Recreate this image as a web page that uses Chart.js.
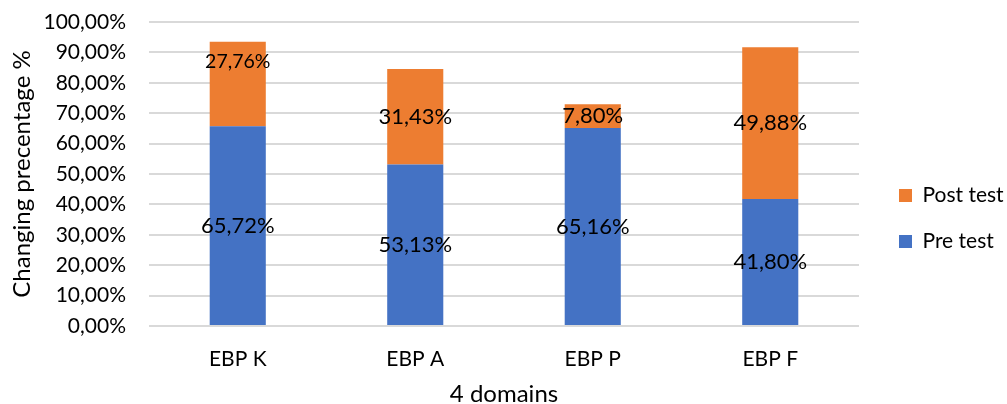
<!DOCTYPE html>
<html>
<head>
<meta charset="utf-8">
<script src="https://cdn.jsdelivr.net/npm/chart.js@4.4.1/dist/chart.umd.min.js"></script>
<style>
  html, body { margin: 0; padding: 0; background: #ffffff; }
  #wrap { width: 1007px; height: 404px; }
</style>
</head>
<body>
<div id="wrap"><canvas id="chart" width="1007" height="404"></canvas></div>
<script>
// Domains on the x axis
const categories = ['EBP K', 'EBP A', 'EBP P', 'EBP F'];
// Share of respondents per domain (%)
const preTest = [65.72, 53.13, 65.16, 41.80];
const postTest = [27.76, 31.43, 7.80, 49.88];
// Value axis range and spacing (%)
const yMin = 0;
const yMax = 100;
const yStep = 10;

const FONT = 'Lato, "Open Sans", "Noto Sans", sans-serif';
const fmtPct = v => Number(v).toFixed(2).replace('.', ',') + '%';

// Writes each segment's value in the middle of the segment
const segmentLabels = {
  id: 'segmentLabels',
  afterDatasetsDraw(chart, args, opts) {
    const ctx = chart.ctx;
    ctx.save();
    ctx.textAlign = 'center';
    ctx.textBaseline = 'middle';
    ctx.fillStyle = opts.color;
    chart.data.datasets.forEach((ds, di) => {
      const meta = chart.getDatasetMeta(di);
      if (meta.hidden) return;
      meta.data.forEach((bar, i) => {
        const tweak = (opts.adjust || []).find(a => a.dataset === di && a.index === i) || {};
        const size = tweak.size || opts.size;
        ctx.font = size + 'px ' + FONT;
        const y = (bar.y + bar.base) / 2 + (tweak.dy || 0);
        ctx.fillText(fmtPct(ds.data[i]), bar.x, y);
      });
    });
    ctx.restore();
  }
};

// Moves the legend block off the plot edge
const legendNudge = {
  id: 'legendNudge',
  afterLayout(chart, args, opts) {
    const lg = chart.legend;
    if (!lg) return;
    lg.left += opts.dx; lg.right += opts.dx;
    lg.top += opts.dy; lg.bottom += opts.dy;
  }
};

new Chart(document.getElementById('chart'), {
  type: 'bar',
  data: {
    labels: categories,
    datasets: [
      { label: 'Pre test', data: preTest, backgroundColor: '#4472C4', stack: 's' },
      { label: 'Post test', data: postTest, backgroundColor: '#ED7D31', stack: 's' }
    ]
  },
  plugins: [segmentLabels, legendNudge],
  options: {
    responsive: false,
    animation: false,
    devicePixelRatio: 1,
    layout: { padding: { top: 22, left: 0, right: 9, bottom: 0 } },
    datasets: { bar: { categoryPercentage: 1, barPercentage: 0.316 } },
    scales: {
      x: {
        stacked: true,
        grid: { display: false },
        border: { display: false },
        ticks: { color: '#000', font: { family: FONT, size: 21 }, padding: 13 },
        title: {
          display: true, text: '4 domains', color: '#000',
          font: { family: FONT, size: 24, lineHeight: 0.8 }, padding: { top: 0, bottom: 0 }
        },
        afterFit(scale) { scale.height = 78; }
      },
      y: {
        stacked: true,
        min: yMin, max: yMax,
        grid: { color: '#d9d9d9', lineWidth: 2, drawTicks: false },
        border: { display: false },
        ticks: {
          stepSize: yStep, color: '#000', padding: 23,
          font: { family: FONT, size: 21 },
          callback: v => fmtPct(v)
        },
        title: {
          display: true, text: 'Changing precentage %', color: '#000',
          font: { family: FONT, size: 24, lineHeight: 1.2 }, padding: { top: 8, bottom: 0 }
        },
        afterFit(scale) {
          scale.width = 149;
          scale.paddingTop = 0;
          scale.paddingBottom = 0;
        }
      }
    },
    plugins: {
      legend: {
        position: 'right',
        reverse: true,
        maxWidth: 139,
        labels: {
          color: '#000', boxWidth: 13, boxHeight: 13, padding: 25,
          font: { family: FONT, size: 21 }
        }
      },
      tooltip: { enabled: false },
      legendNudge: { dx: 15, dy: 5.5 },
      segmentLabels: {
        color: '#000', size: 22,
        adjust: [{ dataset: 1, index: 0, dy: -22, size: 19.5 }]
      }
    }
  }
});
</script>
</body>
</html>
